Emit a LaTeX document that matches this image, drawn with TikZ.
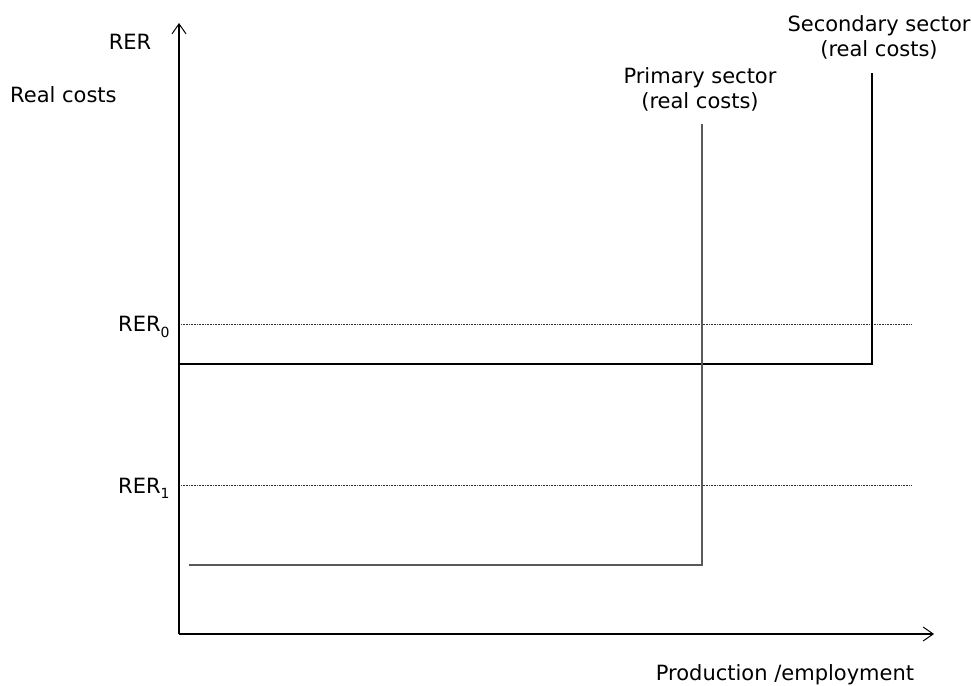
\documentclass[tikz,border=0pt]{standalone}
\usepackage{fontspec}
\setmainfont{DejaVu Sans}
\usetikzlibrary{arrows.meta}
\newcommand{\lowsub}[1]{\raisebox{-0.45ex}{\fontsize{14}{16}\selectfont #1}}
\begin{document}
\begin{tikzpicture}[x=1pt,y=-1pt,
  lbl/.style={inner sep=0pt,font=\fontsize{21}{25}\selectfont},
  axis/.style={line width=1.1pt,-{Straight Barb[length=10pt,width=14pt,line width=1pt]}},
  dotline/.style={line width=0.7pt,dotted,dash pattern=on 0.8pt off 0.8pt,black!80},
  prim/.style={line width=1.6pt,black!65},
  sec/.style={line width=1.3pt,black}]
\useasboundingbox (0,0) rectangle (971,685);
\coordinate (O) at (179,634);
\coordinate (ytip) at (179,23);
\coordinate (xtip) at (934,634);
\draw[axis] (O) -- (ytip);
\draw[axis] (O) -- (xtip);
% dotted levels
\coordinate (d0a) at (181,324); \coordinate (d0b) at (911,324);
\coordinate (d1a) at (181,485); \coordinate (d1b) at (911,485);
\draw[dotline] (d0a) -- (d0b);
\draw[dotline] (d1a) -- (d1b);
% secondary sector
\coordinate (s0) at (179,364); \coordinate (s1) at (872,364); \coordinate (s2) at (872,73);
\draw[sec] (s0) -- (s1) -- (s2);
% primary sector
\coordinate (p0) at (189,565); \coordinate (p1) at (702,565); \coordinate (p2) at (702,124);
\draw[prim] (p0) -- (p1) -- (p2);
% labels
\node[lbl,anchor=center] (rer) at (130,42) {RER};
\node[lbl,anchor=west] (rc) at (10,95) {Real costs};
\node[lbl,anchor=west] (rer0) at (118,327) {RER\lowsub{0}};
\node[lbl,anchor=west] (rer1) at (118,488) {RER\lowsub{1}};
\node[lbl,align=center,anchor=center] (prl) at (700,89) {Primary sector\\(real costs)};
\node[lbl,align=center,anchor=center] (sel) at (879,37) {Secondary sector\\(real costs)};
\node[lbl,anchor=center] (pe) at (785,675) {Production /employment};
\end{tikzpicture}
\end{document}
